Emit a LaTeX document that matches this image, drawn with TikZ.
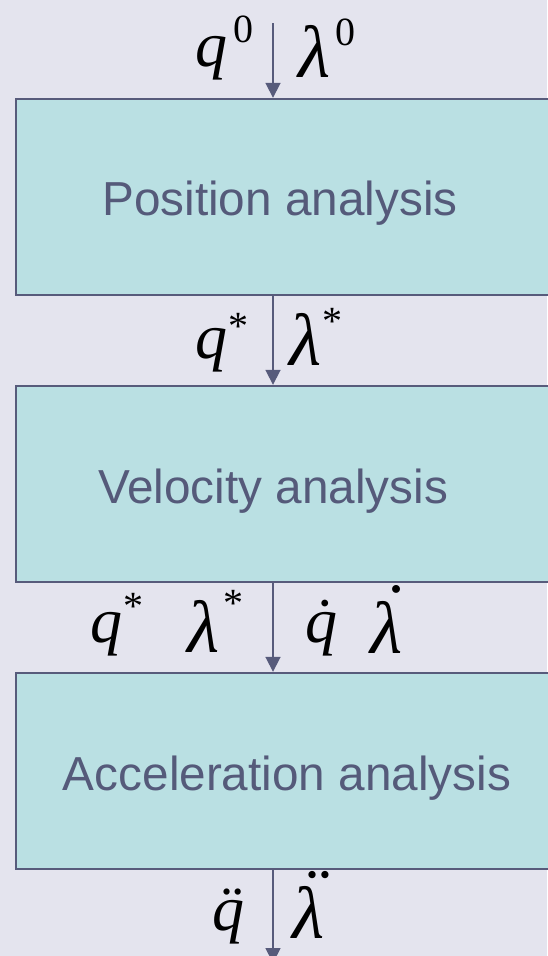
\documentclass[tikz,border=0pt]{standalone}
\usepackage{fontspec}
\setmainfont{Liberation Sans}
\newfontfamily\eqfont{Liberation Serif}
\usepackage{tikz}
\usetikzlibrary{arrows.meta,positioning}
\definecolor{cBack}{HTML}{E4E4EE}
\definecolor{cBox}{HTML}{BAE0E3}
\definecolor{cLine}{HTML}{575B7B}
\definecolor{cText}{HTML}{555A7A}
\tikzset{
  stage/.style={draw=cLine, line width=2.4pt, fill=cBox, minimum width=534pt,
                minimum height=196pt, inner sep=0pt},
  stagetext/.style={text=cText, text depth=0pt, inner sep=0pt,
                    font=\fontsize{47.7}{57}\selectfont},
  arr/.style={-{Triangle[length=15pt,width=15pt]}, line width=1.8pt, cLine},
  qsym/.style={anchor=base west, inner sep=0pt, text=black,
               font=\eqfont\fontsize{64}{66}\selectfont\itshape},
  lsym/.style={qsym, font=\eqfont\fontsize{74}{76}\selectfont\itshape}
}
% #1 kern, #2 raise, #3 script text
\newcommand{\hi}[3]{\kern#1\raisebox{#2}{\fontsize{40}{40}\selectfont\upshape #3}}
\newcommand{\dt}[1]{\accent"02D9 #1}
\newcommand{\ddt}[1]{\accent"00A8 #1}

\begin{document}
\begin{tikzpicture}[x=1pt, y=-1pt]
\fill[cBack] (0,0) rectangle (547,956);
\useasboundingbox (0,0) rectangle (547,956);
% the three stages
\node[stage, label={[stagetext, name=post, xshift=-3pt, yshift=-1pt]center:Position analysis}]
  (pos) at (283,197) {};
\node[stage, label={[stagetext, name=velt, xshift=-10pt, yshift=-2pt]center:Velocity analysis}]
  (vel) at (283,484) {};
\node[stage, label={[stagetext, name=acct, xshift=4pt, yshift=-2pt]center:Acceleration analysis}]
  (acc) at (283,771) {};
% flow
\coordinate (in) at (273,23);
\coordinate (out) at (273,963);
\draw[arr] (in) -- (in |- pos.north);
\draw[arr] (in |- pos.south) -- (in |- vel.north);
\draw[arr] (in |- vel.south) -- (in |- acc.north);
\draw[arr] (in |- acc.south) -- (out);
% inputs
\node[qsym] (q0) at (195,66) {q\hi{6pt}{24pt}{0}};
\node[lsym] (l0) at (298,77) {λ\hi{5pt}{32pt}{0}};
% after position
\node[qsym] (qs) at (195,358) {q\hi{1pt}{19pt}{*}};
\node[lsym] (ls) at (289,365) {λ\hi{1pt}{31pt}{*}};
% after velocity
\node[qsym] (qs2) at (90,642) {q\hi{1pt}{23pt}{*}};
\node[lsym] (ls2) at (187,652) {λ\hi{4pt}{36pt}{*}};
\node[qsym] (qd) at (305,642) {\dt{q}};
\node[lsym] (ld) at (370,653) {\dt{λ}};
% after acceleration
\node[qsym] (qdd) at (212,930) {\ddt{q}};
\node[lsym] (ldd) at (292,938) {\ddt{λ}};
\end{tikzpicture}
\end{document}
